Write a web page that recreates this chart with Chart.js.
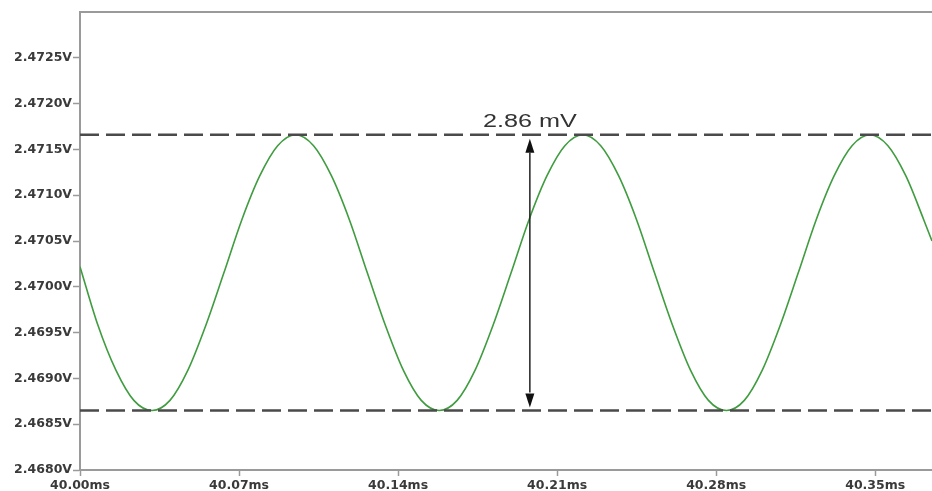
<!DOCTYPE html>
<html>
<head>
<meta charset="utf-8">
<script src="https://cdn.jsdelivr.net/npm/chart.js@4/dist/chart.umd.min.js"></script>
<style>
  html, body { margin: 0; padding: 0; background: #ffffff; }
  canvas { display: block; }
</style>
</head>
<body>
<canvas id="scope-chart" width="932" height="491"></canvas>
<script>
'use strict';

// ******** DATA ***********************************
let timeMs = [
  40.0000, 40.0079, 40.0158, 40.0237, 40.0317, 40.0396, 40.0475, 40.0554,
  40.0633, 40.0712, 40.0791, 40.0870, 40.0949, 40.1028, 40.1107, 40.1186,
  40.1265, 40.1344, 40.1423, 40.1502, 40.1581, 40.1660, 40.1739, 40.1818,
  40.1897, 40.1976, 40.2055, 40.2134, 40.2213, 40.2292, 40.2371, 40.2450,
  40.2529, 40.2608, 40.2687, 40.2766, 40.2845, 40.2924, 40.3003, 40.3082,
  40.3161, 40.3240, 40.3319, 40.3398, 40.3477, 40.3556, 40.3635, 40.3714,
  40.3750
];

let voltage = [
  2.47022, 2.46958, 2.46909, 2.46876, 2.46865, 2.46876, 2.46909, 2.46958,
  2.47015, 2.47073, 2.47121, 2.47154, 2.47166, 2.47154, 2.47121, 2.47073,
  2.47015, 2.46958, 2.46909, 2.46876, 2.46865, 2.46876, 2.46909, 2.46958,
  2.47015, 2.47073, 2.47121, 2.47154, 2.47166, 2.47154, 2.47121, 2.47073,
  2.47015, 2.46958, 2.46909, 2.46876, 2.46865, 2.46876, 2.46909, 2.46958,
  2.47015, 2.47073, 2.47121, 2.47154, 2.47166, 2.47154, 2.47121, 2.47073,
  2.47050
];

let xTicks = [40.00, 40.07, 40.14, 40.21, 40.28, 40.35];
let yTicks = [2.4680, 2.4685, 2.4690, 2.4695, 2.4700, 2.4705, 2.4710, 2.4715, 2.4720, 2.4725];

let xRange = [40.00, 40.375];
let yRange = [2.4680, 2.4730];

// peak-to-peak marker
let markerTime = 40.198;
let markerLabel = '2.86 mV';

// ********* HELPERS ****************
let points = [];
for (let i = 0; i < timeMs.length; i++) {
  points.push({ x: timeMs[i], y: voltage[i] });
}

let axisGray = '#9a9a9a';
let labelFont = { family: 'DejaVu Sans', size: 12.5, weight: 'bold' };

// top border of the plot frame
let framePlugin = {
  id: 'frame',
  afterDraw(chart) {
    let ctx = chart.ctx;
    let area = chart.chartArea;
    ctx.save();
    ctx.strokeStyle = axisGray;
    ctx.lineWidth = 2;
    ctx.beginPath();
    ctx.moveTo(area.left, area.top);
    ctx.lineTo(area.right, area.top);
    ctx.stroke();
    ctx.restore();
  }
};

// dashed max/min lines, arrow and the label
let peakPlugin = {
  id: 'peakMarker',
  afterDatasetsDraw(chart) {
    let ctx = chart.ctx;
    let area = chart.chartArea;
    let xs = chart.scales.x;
    let ys = chart.scales.y;
    let top = ys.getPixelForValue(Math.max(...voltage));
    let bottom = ys.getPixelForValue(Math.min(...voltage));
    let ax = xs.getPixelForValue(markerTime);

    ctx.save();
    ctx.strokeStyle = '#4a4a4a';
    ctx.lineWidth = 2.5;
    ctx.setLineDash([19, 7]);
    [top, bottom].forEach(function (py) {
      ctx.beginPath();
      ctx.moveTo(area.left, py);
      ctx.lineTo(area.right, py);
      ctx.stroke();
    });
    ctx.setLineDash([]);

    // arrow shaft
    let head = 14;
    ctx.strokeStyle = '#222';
    ctx.fillStyle = '#111';
    ctx.lineWidth = 1.5;
    ctx.beginPath();
    ctx.moveTo(ax, top + 4 + head);
    ctx.lineTo(ax, bottom - 4 - head);
    ctx.stroke();
    // heads
    ctx.beginPath();
    ctx.moveTo(ax, top + 4);
    ctx.lineTo(ax - 4.5, top + 4 + head);
    ctx.lineTo(ax + 4.5, top + 4 + head);
    ctx.closePath();
    ctx.fill();
    ctx.beginPath();
    ctx.moveTo(ax, bottom - 3);
    ctx.lineTo(ax - 4.5, bottom - 3 - head);
    ctx.lineTo(ax + 4.5, bottom - 3 - head);
    ctx.closePath();
    ctx.fill();

    // label, slightly stretched like the scope export
    ctx.translate(ax, top - 8);
    ctx.scale(1.4, 1);
    ctx.font = '18px "Liberation Sans", Arial, sans-serif';
    ctx.fillStyle = '#333';
    ctx.textAlign = 'center';
    ctx.textBaseline = 'alphabetic';
    ctx.fillText(markerLabel, 0, 0);
    ctx.restore();
  }
};

// ********* CHART CONFIG ****************
let canvasElem = document.getElementById('scope-chart');

let myObj = {
  type: 'line',
  data: {
    datasets: [{
      label: 'V(out)',
      data: points,
      borderColor: '#3f9c3f',
      borderWidth: 1.6,
      pointRadius: 0,
      fill: false,
      cubicInterpolationMode: 'monotone'
    }]
  },
  options: {
    responsive: false,
    animation: false,
    devicePixelRatio: 1,
    layout: {
      padding: { top: 12, right: 0, bottom: 0, left: 0 }
    },
    plugins: {
      legend: { display: false },
      tooltip: { enabled: false }
    },
    scales: {
      x: {
        type: 'linear',
        min: xRange[0],
        max: xRange[1],
        afterBuildTicks(scale) {
          scale.ticks = xTicks.map(function (v) { return { value: v }; });
        },
        afterFit(scale) {
          scale.height = 21;
        },
        ticks: {
          color: '#3a3a3a',
          font: labelFont,
          padding: 2,
          maxRotation: 0,
          autoSkip: false,
          callback: function (v) { return Number(v).toFixed(2) + 'ms'; }
        },
        grid: {
          drawOnChartArea: false,
          drawTicks: true,
          tickLength: 6,
          tickColor: axisGray,
          tickWidth: 1.5
        },
        border: { display: true, color: axisGray, width: 2 }
      },
      y: {
        type: 'linear',
        min: yRange[0],
        max: yRange[1],
        afterBuildTicks(scale) {
          scale.ticks = yTicks.map(function (v) { return { value: v }; });
        },
        afterFit(scale) {
          scale.width = 80;
        },
        ticks: {
          color: '#3a3a3a',
          font: labelFont,
          padding: 1,
          autoSkip: false,
          callback: function (v) { return Number(v).toFixed(4) + 'V'; }
        },
        grid: {
          drawOnChartArea: false,
          drawTicks: true,
          tickLength: 7,
          tickColor: axisGray,
          tickWidth: 1.5
        },
        border: { display: true, color: axisGray, width: 2 }
      }
    }
  },
  plugins: [framePlugin, peakPlugin]
};

new Chart(canvasElem, myObj);
</script>
</body>
</html>
